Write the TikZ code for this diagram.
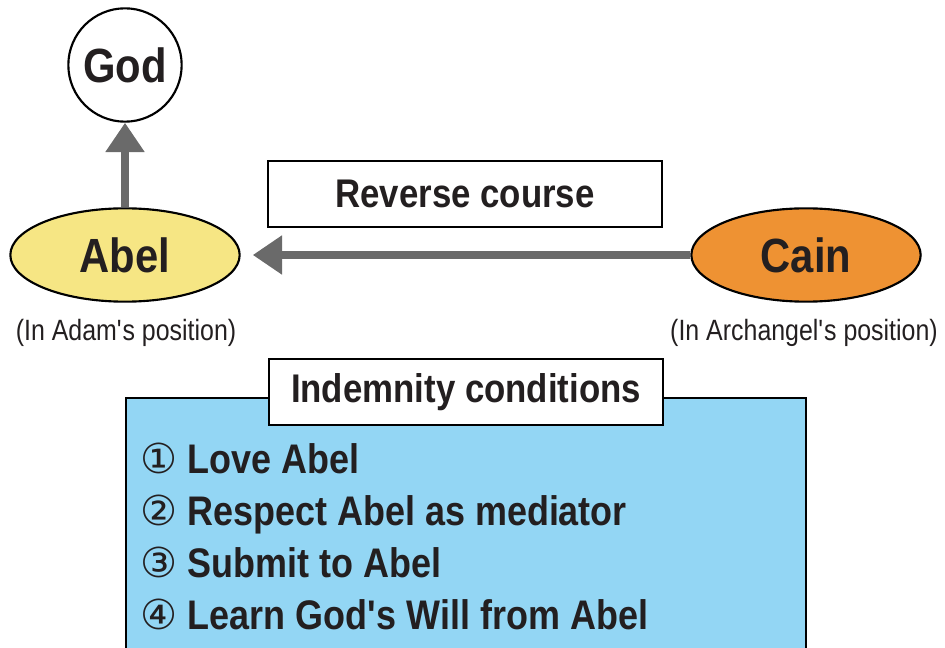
\documentclass[tikz,border=0pt]{standalone}
\usepackage{fontspec}
\setmainfont{Liberation Sans}[FakeStretch=0.87]
\newfontfamily\notefont{Liberation Sans}[FakeStretch=0.85]
\newfontfamily\symfont{DejaVu Sans}
\usepackage{tikz}
\usetikzlibrary{arrows.meta,positioning,shapes.geometric}

\definecolor{abelyellow}{HTML}{F6E684}
\definecolor{cainorange}{HTML}{EE9233}
\definecolor{condblue}{HTML}{93D6F4}
\definecolor{arrowgray}{HTML}{6A6A6A}
\definecolor{inkblack}{HTML}{231F20}
\newcommand{\apos}{\textquotesingle}

\begin{document}
\begin{tikzpicture}[x=0.75pt,y=-0.75pt,text=inkblack,
  bignode/.style={draw=black,line width=1.6pt,font=\fontsize{36}{38}\selectfont\bfseries,inner sep=0pt},
  person/.style={bignode,ellipse,minimum width=172pt,minimum height=70pt},
  labelbox/.style={draw=black,line width=1.4pt,fill=white,minimum width=296pt,minimum height=49pt,
    font=\fontsize{30}{32}\selectfont\bfseries,inner sep=0pt},
  posnote/.style={font=\notefont\fontsize{22}{24}\selectfont},
  item/.style={anchor=base west,font=\fontsize{31}{33}\selectfont\bfseries,inner sep=0pt},
  bigarrow/.style={draw=arrowgray,line width=6.5pt,-{Triangle[length=22pt,width=28pt]}}]
\useasboundingbox (0,0) rectangle (945,648);
% persons
\node[bignode,circle,minimum size=85pt,fill=white] (god) at (125,65) {God};
\node[person,fill=abelyellow] (abel) at (125,255) {Abel};
\node[person,fill=cainorange] (cain) at (806,255) {Cain};
\node[posnote] (abelpos) at (126,333) {(In Adam\apos s position)};
\node[posnote] (cainpos) at (804,333) {(In Archangel\apos s position)};
% arrows
\draw[bigarrow] (abel.north) -- (god.south);
\draw[bigarrow,shorten >=9pt] (cain.west) -- (abel.east);
\node[labelbox] (reverse) at (465,194) {Reverse course};
% conditions
\node[draw=black,line width=1.6pt,fill=condblue,anchor=north west,minimum width=510pt,
  minimum height=200pt] (condbox) at (125,397) {};
\node[labelbox] (condtitle) at (466,392) {Indemnity conditions};
\node[item] (cond1) at (140,473) {{\symfont\mdseries ①} Love Abel};
\node[item] (cond2) at (140,525) {{\symfont\mdseries ②} Respect Abel as mediator};
\node[item] (cond3) at (140,577) {{\symfont\mdseries ③} Submit to Abel};
\node[item] (cond4) at (140,629) {{\symfont\mdseries ④} Learn God\apos s Will from Abel};
\end{tikzpicture}
\end{document}
